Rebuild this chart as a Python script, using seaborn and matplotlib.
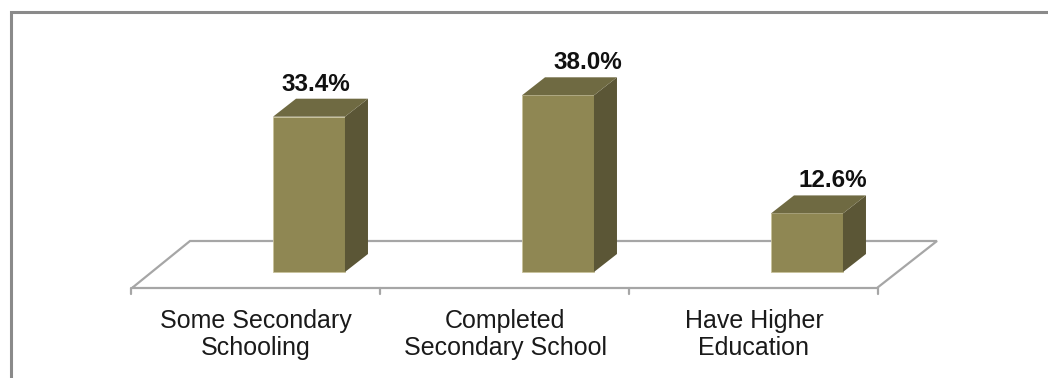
import matplotlib
matplotlib.use("Agg")
import matplotlib.pyplot as plt
import seaborn as sns
import pandas as pd
from matplotlib.patches import Polygon, Rectangle
from matplotlib.lines import Line2D

# ---- data ----
categories = ["Some Secondary\nSchooling", "Completed\nSecondary School", "Have Higher\nEducation"]
values = [33.4, 38.0, 12.6]
value_labels = ["33.4%", "38.0%", "12.6%"]

# ---- style ----
sns.set_theme(style="white")
plt.rcParams['font.family'] = ['Liberation Sans', 'DejaVu Sans']

W, H, DPI = 1048, 378, 100
fig = plt.figure(figsize=(W / DPI, H / DPI), dpi=DPI)
ax = fig.add_axes([0, 0, 1, 1])

front_c = "#8f8753"
top_c = "#6f6a42"
side_c = "#5b5636"

df = pd.DataFrame({"cat": categories, "val": values})
bar_w = 0.289
sns.barplot(data=df, x="cat", y="val", color=front_c, width=bar_w, saturation=1,
            edgecolor="#c9c29c", linewidth=0.6, ax=ax, zorder=3)

# pixel mapping: cat i -> x px 309+249*i ; value v -> y px 272-4.65*v
px_per_cat = 249.0
px_per_val = 4.65
x0_px, y0_px = 309.0, 272.0
ax.set_xlim(-x0_px / px_per_cat, (W - x0_px) / px_per_cat)
ax.set_ylim((y0_px - H) / px_per_val, y0_px / px_per_val)
ax.axis("off")

def cx(px):
    return (px - x0_px) / px_per_cat

def cy(px):
    return (y0_px - px) / px_per_val

# depth offset of the 3D boxes
ddx = 23 / px_per_cat
ddy = 18 / px_per_val

# floor
floor_c = "#a6a6a6"
fl = [(cx(132), cy(288)), (cx(877), cy(288)), (cx(937), cy(241)), (cx(190), cy(241)), (cx(132), cy(288))]
ax.add_line(Line2D([p[0] for p in fl], [p[1] for p in fl], color=floor_c, lw=1.6, zorder=1,
                   solid_joinstyle="miter"))
for i in range(len(categories) + 1):
    xt = cx(131) + i * 1.0
    ax.add_line(Line2D([xt, xt], [cy(288), cy(294)], color=floor_c, lw=1.6, zorder=1))

# 3D faces
label_dx_px = [7, 30, 26]
for i, v in enumerate(values):
    xl = i - bar_w / 2
    xr = i + bar_w / 2
    side = Polygon([(xr, 0), (xr + ddx, ddy), (xr + ddx, v + ddy), (xr, v)],
                   closed=True, facecolor=side_c, edgecolor="none", zorder=3)
    top = Polygon([(xl, v), (xr, v), (xr + ddx, v + ddy), (xl + ddx, v + ddy)],
                  closed=True, facecolor=top_c, edgecolor="none", zorder=3)
    ax.add_patch(side)
    ax.add_patch(top)
    ax.text(i + label_dx_px[i] / px_per_cat, v + ddy + 8 / px_per_val, value_labels[i],
            ha="center", va="baseline", fontsize=17.5, fontweight="bold", color="#111111", zorder=5)

# category labels
for i, c in enumerate(categories):
    ax.text(cx(256) + i * 1.0, cy(309), c, ha="center", va="top", fontsize=18,
            color="#1a1a1a", linespacing=1.15, zorder=5)

# outer chart-area border (partially cropped)
fig.patches.append(Rectangle((11 / W, -0.1), 1.2, (H - 12) / H + 0.1, transform=fig.transFigure,
                             fill=False, edgecolor="#8a8a8a", lw=2.2, zorder=10))

fig.savefig("out.png", dpi=DPI, facecolor="white")
